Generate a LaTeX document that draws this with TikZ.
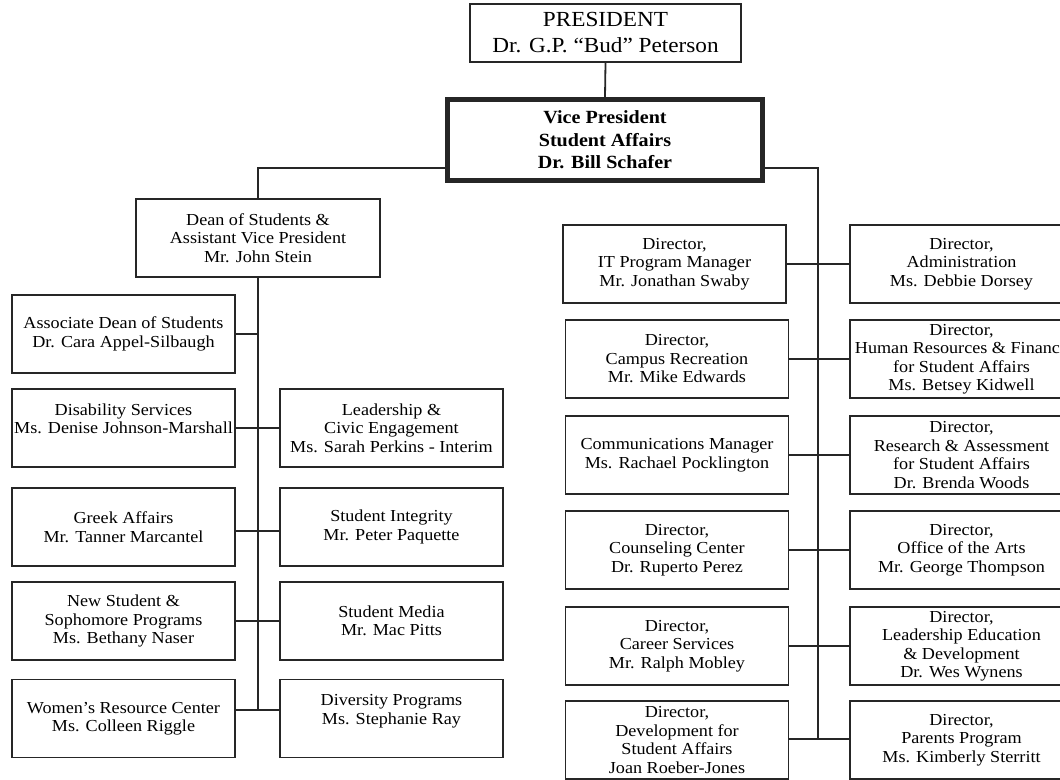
\documentclass[tikz,border=0pt]{standalone}
\usepackage{fontspec}
\setmainfont{Liberation Serif}[FakeStretch=1.08]
\newcommand\bodyfont{\fontsize{16.8}{18.5}\selectfont}
\newcommand\presfont{\fontsize{21.5}{26}\selectfont}
\newcommand\vpfont{\fontsize{18.6}{22.5}\selectfont\bfseries}
\begin{document}
\begin{tikzpicture}[x=1pt,y=-1pt,
  unit/.style={draw=black!85, line width=1.4pt, rectangle, inner sep=0pt,
    minimum width=223pt, minimum height=78pt, align=center, font=\bodyfont},
  link/.style={draw=black!85, line width=1.8pt}]
\clip (0,0) rectangle (1060,779);

% top of the chart
\node[unit, minimum width=271pt, minimum height=58pt, font=\presfont] (pres) at (605.5,33)
  {PRESIDENT\\Dr. G.P. “Bud” Peterson};
\node[unit, line width=5pt, minimum width=315pt, minimum height=81pt, font=\vpfont] (vp) at (605,140)
  {Vice President\\Student Affairs\\Dr. Bill Schafer};

% dean of students branch
\node[unit, minimum width=244pt] (dean) at (258,238)
  {Dean of Students \&\\Assistant Vice President\\Mr. John Stein};
\node[unit] (assoc) at (123.5,334) {Associate Dean of Students\\Dr. Cara Appel-Silbaugh};
\node[unit] (disab) at (123.5,428) {Disability Services\\Ms. Denise Johnson-Marshall\\\mbox{}};
\node[unit] (greek) at (123.5,527) {Greek Affairs\\Mr. Tanner Marcantel};
\node[unit] (newstu) at (123.5,621) {New Student \&\\Sophomore Programs\\Ms. Bethany Naser};
\node[unit] (women) at (123.5,718.5) {Women’s Resource Center\\Ms. Colleen Riggle};
\node[unit] (lead) at (391.5,428) {Leadership \&\\Civic Engagement\\Ms. Sarah Perkins - Interim};
\node[unit] (integ) at (391.5,527) {Student Integrity\\Mr. Peter Paquette};
\node[unit] (media) at (391.5,621) {Student Media\\Mr. Mac Pitts};
\node[unit] (divers) at (391.5,718.5) {Diversity Programs\\Ms. Stephanie Ray\\\mbox{}};

% directors branch
\node[unit] (it) at (674.5,264) {Director,\\IT Program Manager\\Mr. Jonathan Swaby};
\node[unit] (campus) at (677,359) {Director,\\Campus Recreation\\Mr. Mike Edwards};
\node[unit] (comm) at (677,455) {Communications Manager\\Ms. Rachael Pocklington};
\node[unit] (couns) at (677,550) {Director,\\Counseling Center\\Dr. Ruperto Perez};
\node[unit] (career) at (677,646) {Director,\\Career Services\\Mr. Ralph Mobley};
\node[unit] (devel) at (677,740) {Director,\\Development for\\Student Affairs\\Joan Roeber-Jones};
\node[unit] (admin) at (961.5,264) {Director,\\Administration\\Ms. Debbie Dorsey};
\node[unit] (hr) at (961.5,359) {Director,\\Human Resources \& Finance\\for Student Affairs\\Ms. Betsey Kidwell};
\node[unit] (research) at (961.5,455) {Director,\\Research \& Assessment\\for Student Affairs\\Dr. Brenda Woods};
\node[unit] (arts) at (961.5,550) {Director,\\Office of the Arts\\Mr. George Thompson};
\node[unit] (leaded) at (961.5,646) {Director,\\Leadership Education\\\& Development\\Dr. Wes Wynens};
\node[unit] (parents) at (961.5,740) {Director,\\Parents Program\\Ms. Kimberly Sterritt};

% spine end points
\coordinate (lj) at (258,168);
\coordinate (rj) at (818,168);
\coordinate (lend) at (258,710);
\coordinate (rend) at (818,739);

% connectors
\draw[link] (pres.south) -- (vp.north);
\draw[link] (vp.west |- lj) -- (lj) -- (dean.north);
\draw[link] (vp.east |- rj) -- (rj) -- (rend);
\draw[link] (dean.south) -- (lend);
\draw[link] (assoc.east) -- (assoc.east -| lend);
\draw[link] (disab.east) -- (lead.west);
\draw[link] ([yshift=-4pt]greek.east) -- ([yshift=-4pt]integ.west);
\draw[link] (newstu.east) -- (media.west);
\draw[link] (women.east |- lend) -- (divers.west |- lend);
\draw[link] (it.east) -- (admin.west);
\draw[link] (campus.east) -- (hr.west);
\draw[link] (comm.east) -- (research.west);
\draw[link] (couns.east) -- (arts.west);
\draw[link] (career.east) -- (leaded.west);
\draw[link] (devel.east |- rend) -- (parents.west |- rend);
\end{tikzpicture}
\end{document}
